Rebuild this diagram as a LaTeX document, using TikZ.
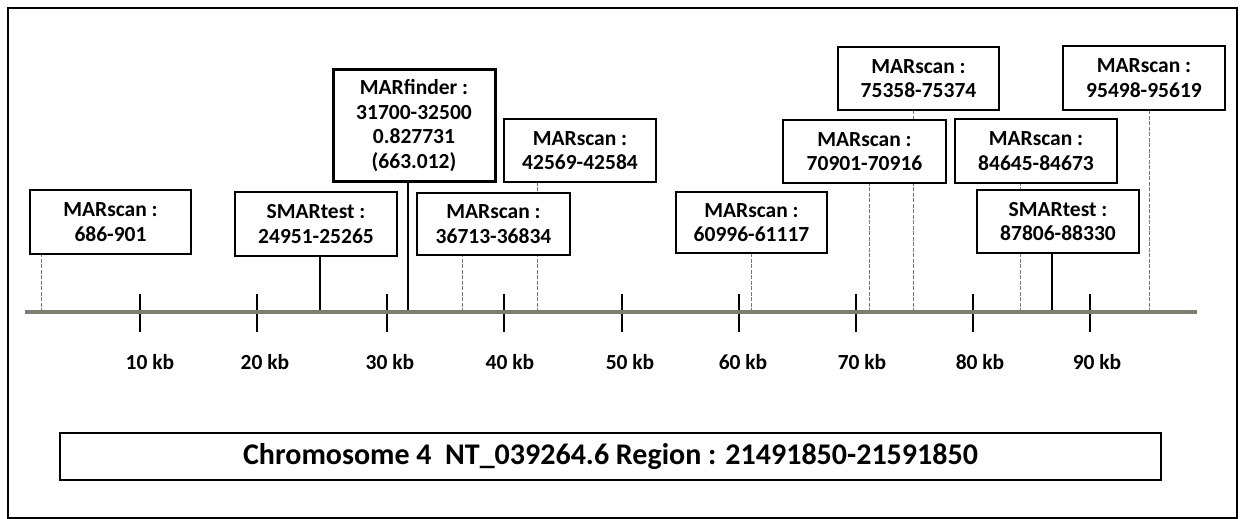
\documentclass[tikz,border=0pt]{standalone}
\usepackage{fontspec}
\setmainfont{Carlito}
\usetikzlibrary{backgrounds}
\definecolor{axiscol}{RGB}{125,126,112}
\definecolor{thincol}{RGB}{120,120,120}
\tikzset{
  lbox/.style={draw=black, line width=1.8pt, fill=white, inner sep=0pt, align=center,
    font=\fontsize{21.5}{24.5}\selectfont\bfseries},
  fbox/.style={lbox, line width=3pt},
  scanline/.style={draw=thincol, line width=0.9pt, dash pattern=on 4pt off 1.5pt},
  testline/.style={draw=black, line width=1.6pt},
  tickmark/.style={draw=black, line width=2.4pt},
  ticklabel/.style={font=\fontsize{21.5}{24}\selectfont\bfseries, inner sep=0pt},
}
\begin{document}
\begin{tikzpicture}[x=1pt,y=-1pt]
\useasboundingbox (0,0) rectangle (1243,519);
% outer frame
\draw[line width=2pt] (8,8) rectangle (1237,518);

% boxes
\node[lbox, minimum width=161pt, minimum height=64pt] (b1) at (110.5,222) {MARscan :\\686-901};
\node[lbox, minimum width=162pt, minimum height=64pt] (b2) at (316,224) {SMARtest :\\24951-25265};
\node[fbox, minimum width=162pt, minimum height=111pt] (b3) at (414,125.5) {MARfinder :\\31700-32500\\0.827731\\(663.012)};
\node[lbox, minimum width=152pt, minimum height=63pt] (b4) at (580,150.5) {MARscan :\\42569-42584};
\node[lbox, minimum width=153pt, minimum height=62pt] (b5) at (493.5,224) {MARscan :\\36713-36834};
\node[lbox, minimum width=151pt, minimum height=61pt] (b6) at (751.5,222.5) {MARscan :\\60996-61117};
\node[lbox, minimum width=163pt, minimum height=63pt] (b7) at (864.5,151.5) {MARscan :\\70901-70916};
\node[lbox, minimum width=161pt, minimum height=63pt] (b8) at (918.5,78.5) {MARscan :\\75358-75374};
\node[lbox, minimum width=162pt, minimum height=64pt] (b9) at (1036,151) {MARscan :\\84645-84673};
\node[lbox, minimum width=162pt, minimum height=63pt] (b10) at (1058,221.5) {SMARtest :\\87806-88330};
\node[lbox, minimum width=162pt, minimum height=64pt] (b11) at (1144,78) {MARscan :\\95498-95619};

% axis points
\coordinate (p1) at (41,312);
\coordinate (p2) at (320,312);
\coordinate (p3) at (408,312);
\coordinate (p4) at (537,312);
\coordinate (p5) at (462,312);
\coordinate (p6) at (751,312);
\coordinate (p7) at (869,312);
\coordinate (p8) at (913,312);
\coordinate (p9) at (1020,312);
\coordinate (p10) at (1052,312);
\coordinate (p11) at (1149,312);
\coordinate (axL) at (25,312);
\coordinate (axR) at (1197,312);

\begin{scope}[on background layer]
\draw[scanline] (p1) -- (p1 |- b1.south);
\draw[testline] (p2) -- (p2 |- b2.south);
\draw[testline] (p3) -- (p3 |- b3.south);
\draw[scanline] (p4) -- (p4 |- b4.south);
\draw[scanline] (p5) -- (p5 |- b5.south);
\draw[scanline] (p6) -- (p6 |- b6.south);
\draw[scanline] (p7) -- (p7 |- b7.south);
\draw[scanline] (p8) -- (p8 |- b8.south);
\draw[scanline] (p9) -- (p9 |- b9.south);
\draw[testline] (p10) -- (p10 |- b10.south);
\draw[scanline] (p11) -- (p11 |- b11.south);
\end{scope}

% ticks
\foreach \x in {140,257,387,504,622,739,856,973,1090}
  \draw[tickmark] (\x,294) -- (\x,332);
% axis
\draw[axiscol, line width=4.5pt] (axL) -- (axR);

% tick labels
\node[ticklabel] (t10) at (150,362) {10 kb};
\node[ticklabel] (t20) at (265,362) {20 kb};
\node[ticklabel] (t30) at (390,362) {30 kb};
\node[ticklabel] (t40) at (510,362) {40 kb};
\node[ticklabel] (t50) at (630,362) {50 kb};
\node[ticklabel] (t60) at (743,362) {60 kb};
\node[ticklabel] (t70) at (862,362) {70 kb};
\node[ticklabel] (t80) at (980,362) {80 kb};
\node[ticklabel] (t90) at (1097,362) {90 kb};

% chromosome box
\node[draw=black, line width=1.8pt, minimum width=1101pt, minimum height=47pt, inner sep=0pt,
  font=\fontsize{30}{32}\selectfont\bfseries] (chr) at (610.5,456.5)
  {Chromosome 4\ \ NT\_039264.6 Region : 21491850-21591850};
\end{tikzpicture}
\end{document}
